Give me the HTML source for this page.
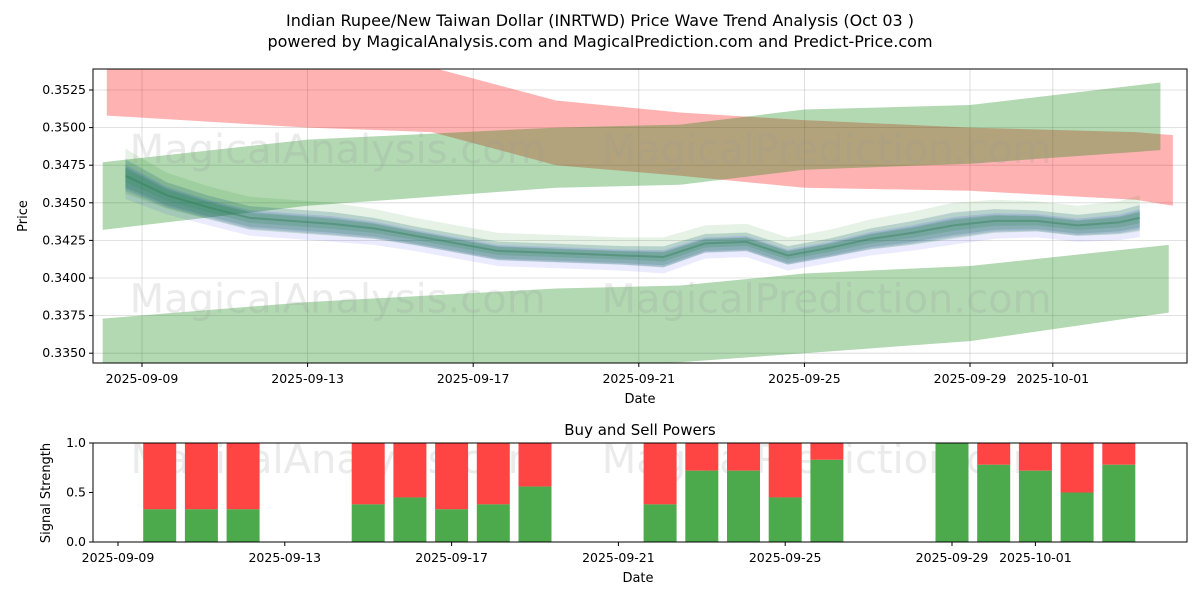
<!DOCTYPE html>
<html><head><meta charset="utf-8">
<style>
body{margin:0;background:#fff;font-family:"Liberation Sans","DejaVu Sans",sans-serif;}
svg text{font-family:"DejaVu Sans","Liberation Sans",sans-serif;}
</style></head>
<body>
<svg id="c" width="1200" height="600" viewBox="0 0 1200 600" xmlns="http://www.w3.org/2000/svg">
<text x="600" y="26" text-anchor="middle" font-size="16" fill="#000">Indian Rupee/New Taiwan Dollar (INRTWD) Price Wave Trend Analysis (Oct 03 )</text>
<text x="600" y="47" text-anchor="middle" font-size="16" fill="#000">powered by MagicalAnalysis.com and MagicalPrediction.com and Predict-Price.com</text>
<g id="topPanel"></g>
<g id="botPanel"></g>
</svg>
<script>
// ---- data ----
const redDays=[-0.85,4,7,10,13,16,20,24,24.9];
const redUpper=[0.3545,0.3542,0.3540,0.3518,0.3510,0.3505,0.3500,0.3497,0.3495];
const redLower=[0.3508,0.3500,0.3497,0.3475,0.3468,0.3460,0.3458,0.3452,0.3448];
const gUpDays=[-0.95,4,10,13,16,20,24.6];
const gUpUpper=[0.3477,0.3492,0.3500,0.3502,0.3512,0.3515,0.3530];
const gUpLower=[0.3432,0.3448,0.3460,0.3462,0.3472,0.3476,0.3485];
const gLoDays=[-0.95,4,10,13,16,20,24.8];
const gLoUpper=[0.3373,0.3384,0.3393,0.3395,0.3403,0.3408,0.3422];
const gLoLower=[0.3340,0.3340,0.3342,0.3344,0.3350,0.3358,0.3377];
const waveDays=[0,1,2,3,4,5,6,7,8,9,10,11,12,13,14,15,16,17,18,19,20,21,22,23,24,24.5];
const waveCenter=[0.3468,0.3455,0.3447,0.3440,0.3438,0.3436,0.3433,0.3428,0.3423,0.3418,0.3417,0.3416,0.3415,0.3414,0.3423,0.3424,0.3415,0.3420,0.3426,0.3430,0.3435,0.3438,0.3438,0.3435,0.3437,0.3440];
const waveSpread=[0.0015,0.0012,0.0011,0.0011,0.0011,0.0011,0.0010,0.0009,0.0009,0.0009,0.0009,0.0009,0.0009,0.0010,0.0009,0.0009,0.0009,0.0009,0.0010,0.0011,0.0012,0.0011,0.0010,0.0010,0.0011,0.0012];
const yTicks=[0.3350,0.3375,0.3400,0.3425,0.3450,0.3475,0.3500,0.3525];
const xTickDays=[0,4,8,12,16,20,22];
const xTickLabels=["2025-09-09","2025-09-13","2025-09-17","2025-09-21","2025-09-25","2025-09-29","2025-10-01"];
const barDays=[1,2,3,6,7,8,9,10,13,14,15,16,17,20,21,22,23,24];
const buyVals=[0.33,0.33,0.33,0.38,0.45,0.33,0.38,0.56,0.38,0.72,0.72,0.45,0.83,1.0,0.78,0.72,0.5,0.78];
const sigTicks=[0,0.5,1.0];
// ---- axes ----
const NS="http://www.w3.org/2000/svg";
const L=93,R=1187,T=69,B=363;
const X=d=>142+d*41.4;
const Y=v=>90+(0.3525-v)*15040;
const BT=443,BB=542;
const XB=d=>118+d*41.7;
const YB=v=>BB-v*(BB-BT);
function mk(p,tag,at){const e=document.createElementNS(NS,tag);for(const k in at)e.setAttribute(k,at[k]);p.appendChild(e);return e;}
const topG=document.getElementById('topPanel'),botG=document.getElementById('botPanel');
const defs=mk(topG,'clipPath',{id:'cl'});mk(defs,'rect',{x:L,y:T,width:R-L,height:B-T});
const body=mk(topG,'g',{'clip-path':'url(#cl)'});
yTicks.forEach(v=>{const g=mk(body,'line',{x1:L,x2:R,y1:Y(v),y2:Y(v),stroke:'#b0b0b0','stroke-width':0.8,'stroke-opacity':0.5});

});
xTickDays.forEach(d=>{const g=mk(body,'line',{x1:X(d),x2:X(d),y1:T,y2:B,stroke:'#b0b0b0','stroke-width':0.8,'stroke-opacity':0.5});

});
function band(days,up,lo,fill,op,name){
 let pts=days.map((d,i)=>X(d)+','+Y(up[i]));
 for(let i=days.length-1;i>=0;i--)pts.push(X(days[i])+','+Y(lo[i]));
 const p=mk(body,'polygon',{points:pts.join(' '),fill:fill,'fill-opacity':op});
 
 
}
band(redDays,redUpper,redLower,'#ff0000',0.3,'red-band');
band(gUpDays,gUpUpper,gUpLower,'#008000',0.3,'upper-green-band');
band(gLoDays,gLoUpper,gLoLower,'#008000',0.3,'lower-green-band');
const layers=[[1.0,'#008000',0.1,0.0003],[0.7,'#008000',0.13,0],[0.45,'#008000',0.16,-0.0001],[0.9,'#0000ff',0.08,-0.0002],[0.55,'#0000ff',0.1,-0.0001],[0.3,'#2e8b57',0.22,0]];
layers.forEach((ly,k)=>{
 const up=waveCenter.map((c,i)=>c+waveSpread[i]*ly[0]+ly[3]);
 const lo=waveCenter.map((c,i)=>c-waveSpread[i]*ly[0]+ly[3]);
 band(waveDays.map(d=>d-0.4),up,lo,ly[1],ly[2],'wave-band');
});
const cline=mk(body,'polyline',{points:waveDays.map((d,i)=>X(d-0.4)+','+Y(waveCenter[i])).join(' '),fill:'none',stroke:'#2e7d4f','stroke-width':2,'stroke-opacity':0.4});


[[X(-0.3),Y(0.34765)],[X(11.1),Y(0.34765)],[X(-0.3),Y(0.3377)],[X(11.1),Y(0.3377)]].forEach((p,i)=>{
 const t=mk(body,'text',{x:p[0],y:p[1],'font-size':40,fill:'#999','fill-opacity':0.2});t.textContent=i%2?'MagicalPrediction.com':'MagicalAnalysis.com';
 
 });
mk(topG,'rect',{x:L,y:T,width:R-L,height:B-T,fill:'none',stroke:'#000','stroke-width':1});
yTicks.forEach(v=>{mk(topG,'line',{x1:L-4,x2:L,y1:Y(v),y2:Y(v),stroke:'#000'});
 const t=mk(topG,'text',{x:L-7,y:Y(v)+4,'text-anchor':'end','font-size':12.5});t.textContent=v.toFixed(4);
 
 });
xTickDays.forEach((d,i)=>{mk(topG,'line',{x1:X(d),x2:X(d),y1:B,y2:B+4,stroke:'#000'});
 const t=mk(topG,'text',{x:X(d),y:B+20,'text-anchor':'middle','font-size':12.5});t.textContent=xTickLabels[i];
 
 });
let tt=mk(topG,'text',{x:640,y:403,'text-anchor':'middle','font-size':13});tt.textContent='Date';


tt=mk(topG,'text',{x:27,y:216,'text-anchor':'middle','font-size':13,transform:'rotate(-90 27 216)'});tt.textContent='Price';


// bottom
tt=mk(botG,'text',{x:640,y:435,'text-anchor':'middle','font-size':15});tt.textContent='Buy and Sell Powers';


[[XB(0.3),BT+30],[XB(11.6),BT+30]].forEach((p,i)=>{const w=mk(botG,'text',{x:p[0],y:p[1],'font-size':40,fill:'#999','fill-opacity':0.2});w.textContent=i?'MagicalPrediction.com':'MagicalAnalysis.com';
 
 });
barDays.forEach((d,i)=>{const cx=XB(d),w=33;
 const s=mk(botG,'rect',{x:cx-w/2,y:YB(1),width:w,height:YB(buyVals[i])-YB(1),fill:'#ff4444'});
 
 
 const b=mk(botG,'rect',{x:cx-w/2,y:YB(buyVals[i]),width:w,height:BB-YB(buyVals[i]),fill:'#4caa4c'});
 
 });
mk(botG,'rect',{x:L,y:BT,width:R-L,height:BB-BT,fill:'none',stroke:'#000','stroke-width':1});
sigTicks.forEach(v=>{mk(botG,'line',{x1:L-4,x2:L,y1:YB(v),y2:YB(v),stroke:'#000'});
 const s=mk(botG,'text',{x:L-7,y:YB(v)+4,'text-anchor':'end','font-size':12.5});s.textContent=v.toFixed(1);
 
 });
xTickDays.forEach((d,i)=>{mk(botG,'line',{x1:XB(d),x2:XB(d),y1:BB,y2:BB+4,stroke:'#000'});
 const s=mk(botG,'text',{x:XB(d),y:BB+20,'text-anchor':'middle','font-size':12.5});s.textContent=xTickLabels[i];
 
 });
tt=mk(botG,'text',{x:638,y:582,'text-anchor':'middle','font-size':13});tt.textContent='Date';


tt=mk(botG,'text',{x:50,y:493,'text-anchor':'middle','font-size':13,transform:'rotate(-90 50 493)'});tt.textContent='Signal Strength';


</script>
</body></html>
